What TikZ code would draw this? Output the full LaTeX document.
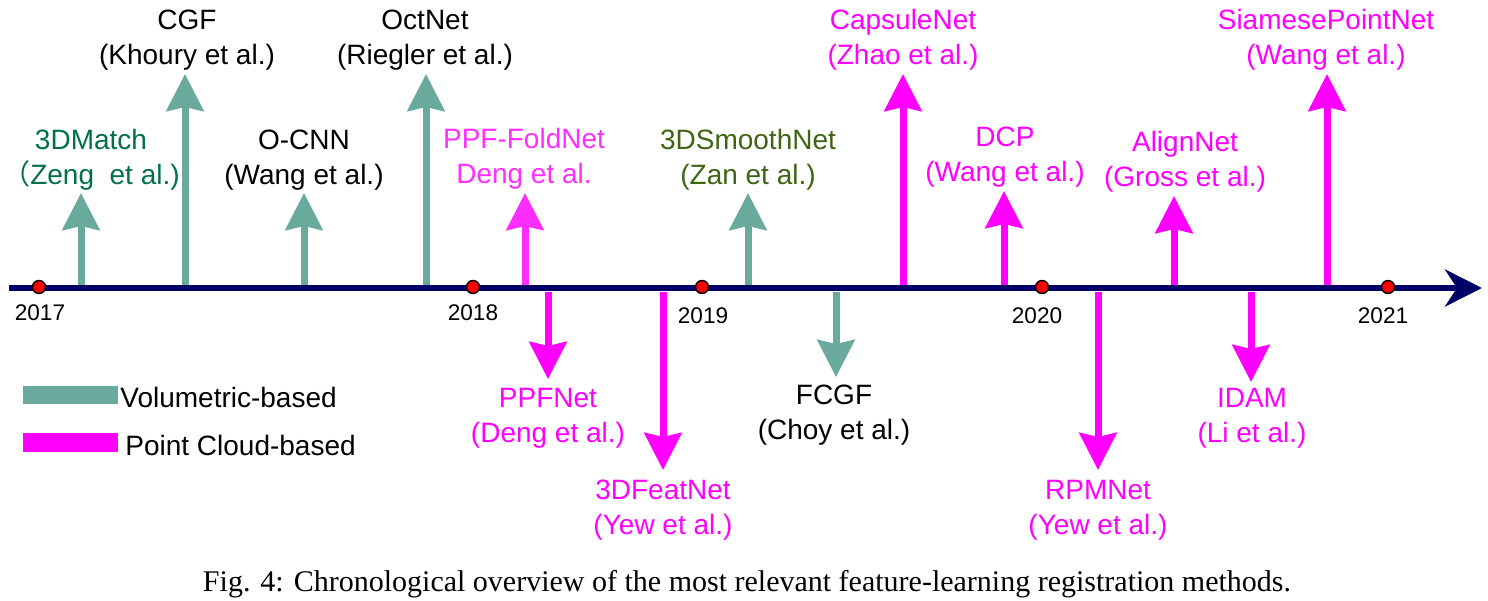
\documentclass[tikz,border=0pt]{standalone}
\usepackage{fontspec}
\setmainfont{Liberation Sans}
\newfontfamily\capfont{Liberation Serif}
\newfontfamily\cjk{Noto Sans CJK SC}
\usetikzlibrary{arrows.meta}
\definecolor{volcol}{RGB}{106,170,156}
\definecolor{pccol}{RGB}{255,0,255}
\definecolor{foldcol}{RGB}{255,45,255}
\definecolor{axiscol}{RGB}{0,0,102}
\definecolor{matchcol}{RGB}{0,112,72}
\definecolor{smoothcol}{RGB}{62,100,20}

\begin{document}
\begin{tikzpicture}[x=0.5pt,y=-0.5pt,
    vol/.style={draw=volcol, line width=3.5pt, -{Stealth[length=18.5pt,width=18.5pt,inset=2pt]}},
    pc/.style={vol, draw=pccol},
    method/.style={align=center, inner sep=0pt, font=\fontsize{14}{17.5}\selectfont},
    year/.style={inner sep=0pt, font=\fontsize{11.3}{13}\selectfont},
    dot/.style={circle, fill=red, draw=black, line width=0.7pt, inner sep=0pt, minimum size=6.5pt}]
            \useasboundingbox (0,0) rectangle (1488,600);

            % Volumetric-based methods
            \coordinate (match-b) at (81,287);   \coordinate (match-t) at (81,193);
            \coordinate (cgf-b) at (185,287);    \coordinate (cgf-t) at (185,74);
            \coordinate (ocnn-b) at (304,287);   \coordinate (ocnn-t) at (304,193);
            \coordinate (oct-b) at (426,287);    \coordinate (oct-t) at (426,74);
            \coordinate (smooth-b) at (748,287); \coordinate (smooth-t) at (748,193);
            \coordinate (fcgf-b) at (836,292);   \coordinate (fcgf-t) at (836,377);
            \draw[vol] (match-b) -- (match-t);
            \draw[vol] (cgf-b) -- (cgf-t);
            \draw[vol] (ocnn-b) -- (ocnn-t);
            \draw[vol] (oct-b) -- (oct-t);
            \draw[vol] (smooth-b) -- (smooth-t);
            \draw[vol] (fcgf-b) -- (fcgf-t);

            % Point cloud-based methods
            \coordinate (fold-b) at (525,287);    \coordinate (fold-t) at (525,193);
            \coordinate (ppf-b) at (548,292);     \coordinate (ppf-t) at (548,379);
            \coordinate (feat-b) at (663,292);    \coordinate (feat-t) at (663,470);
            \coordinate (caps-b) at (903,287);    \coordinate (caps-t) at (903,74);
            \coordinate (dcp-b) at (1004,287);    \coordinate (dcp-t) at (1004,191);
            \coordinate (rpm-b) at (1098,292);    \coordinate (rpm-t) at (1098,470);
            \coordinate (align-b) at (1174,287);  \coordinate (align-t) at (1174,196);
            \coordinate (idam-b) at (1251,292);   \coordinate (idam-t) at (1251,382);
            \coordinate (siam-b) at (1327,287);   \coordinate (siam-t) at (1327,74);
            \draw[pc, draw=foldcol] (fold-b) -- (fold-t);
            \draw[pc] (ppf-b) -- (ppf-t);
            \draw[pc] (feat-b) -- (feat-t);
            \draw[pc] (caps-b) -- (caps-t);
            \draw[pc] (dcp-b) -- (dcp-t);
            \draw[pc] (rpm-b) -- (rpm-t);
            \draw[pc] (align-b) -- (align-t);
            \draw[pc] (idam-b) -- (idam-t);
            \draw[pc] (siam-b) -- (siam-t);

            % Draw axis
            \coordinate (axis-s) at (9,288);
            \coordinate (axis-e) at (1482,288);
            \draw[draw=axiscol, line width=3pt, -{Stealth[length=18.5pt,width=18.5pt,inset=6pt]}] (axis-s) -- (axis-e);

            % Years
            \node[dot] (d2017) at (39,287) {};
            \node[dot] (d2018) at (473,287) {};
            \node[dot] (d2019) at (702,287) {};
            \node[dot] (d2020) at (1042,287) {};
            \node[dot] (d2021) at (1388,287) {};
            \node[year] (y2017) at (40,313) {2017};
            \node[year] (y2018) at (473,313) {2018};
            \node[year] (y2019) at (703,316) {2019};
            \node[year] (y2020) at (1037,316) {2020};
            \node[year] (y2021) at (1383,316) {2021};

            % Labels above the axis
            \node[method, text=matchcol] (match) at (91,160) {3DMatch\\{\cjk （}Zeng\ \ et al.)};
            \node[method] (cgf) at (187,40) {CGF\\(Khoury et al.)};
            \node[method] (ocnn) at (304,160) {O-CNN\\(Wang et al.)};
            \node[method] (oct) at (425,40) {OctNet\\(Riegler et al.)};
            \node[method, text=foldcol] (fold) at (524,159) {PPF-FoldNet\\Deng et al.};
            \node[method, text=smoothcol] (smooth) at (748,160) {3DSmoothNet\\(Zan et al.)};
            \node[method, text=pccol] (caps) at (903,40) {CapsuleNet\\(Zhao et al.)};
            \node[method, text=pccol] (dcp) at (1005,157) {DCP\\(Wang et al.)};
            \node[method, text=pccol] (align) at (1185,162) {AlignNet\\(Gross et al.)};
            \node[method, text=pccol] (siam) at (1326,40) {SiamesePointNet\\(Wang et al.)};

            % Labels below the axis
            \node[method, text=pccol] (ppf) at (548,418) {PPFNet\\(Deng et al.)};
            \node[method, text=pccol] (feat) at (663,510) {3DFeatNet\\(Yew et al.)};
            \node[method] (fcgf) at (834,415) {FCGF\\(Choy et al.)};
            \node[method, text=pccol] (rpm) at (1098,510) {RPMNet\\(Yew et al.)};
            \node[method, text=pccol] (idam) at (1252,418) {IDAM\\(Li et al.)};

            % Legend
            \fill[volcol] (23,386) rectangle (118,404);
            \fill[pccol] (23,433) rectangle (118,452);
            \node[method, anchor=west] (leg-vol) at (120,397) {Volumetric-based};
            \node[method, anchor=west] (leg-pc) at (125,445) {Point Cloud-based};

            % Caption
            \node[inner sep=0pt, font=\capfont\fontsize{15}{18}\selectfont] (caption) at (747,584)
                {Fig. 4: Chronological overview of the most relevant feature-learning registration methods.};
        \end{tikzpicture}
\end{document}
